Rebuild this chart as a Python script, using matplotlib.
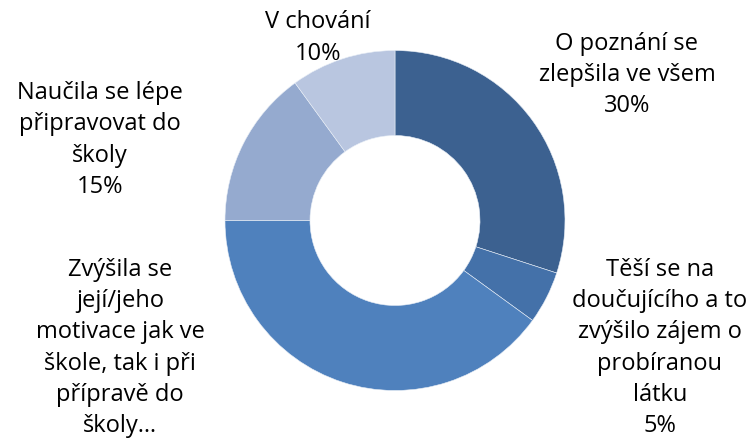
import matplotlib
matplotlib.use("Agg")
import matplotlib.pyplot as plt

labels = ["O poznání se\nzlepšila ve všem", "Těší se na\ndoučujícího a to\nzvýšilo zájem o\nprobíranou\nlátku",
          "Zvýšila se\njejí/jeho\nmotivace jak ve\nškole, tak i při\npřípravě do\nškoly…",
          "Naučila se lépe\npřipravovat do\nškoly", "V chování"]
values = [30, 5, 40, 15, 10]
pct_labels = ["30%", "5%", "", "15%", "10%"]
colors = ["#3C6190", "#4471A9", "#4F81BD", "#95AACF", "#B9C6E0"]

W, H = 750, 439
fig = plt.figure(figsize=(7.5, 4.39), dpi=100)
ax = fig.add_axes([0, 0, 1, 1])

cx, cy, r = 395, H - 221.5, 170
ax.pie(values, colors=colors, startangle=90, counterclock=False, center=(cx, cy), radius=r,
       wedgeprops=dict(width=r * 0.5, edgecolor="#E8EEF6", linewidth=0.4), frame=True)
ax.set_xlim(0, W)
ax.set_ylim(0, H)
ax.set_aspect("equal")
ax.axis("off")

label_pos = [(627, 75), (660, 348), (120, 348), (100, 140), (318, 38)]
for lab, pct, (px, py) in zip(labels, pct_labels, label_pos):
    txt = lab + ("\n" + pct if pct else "")
    ax.text(px, H - py, txt, ha="center", va="center", multialignment="center",
            fontsize=17, family="Open Sans", linespacing=1.4, color="black")

fig.savefig("out.png", dpi=100)
